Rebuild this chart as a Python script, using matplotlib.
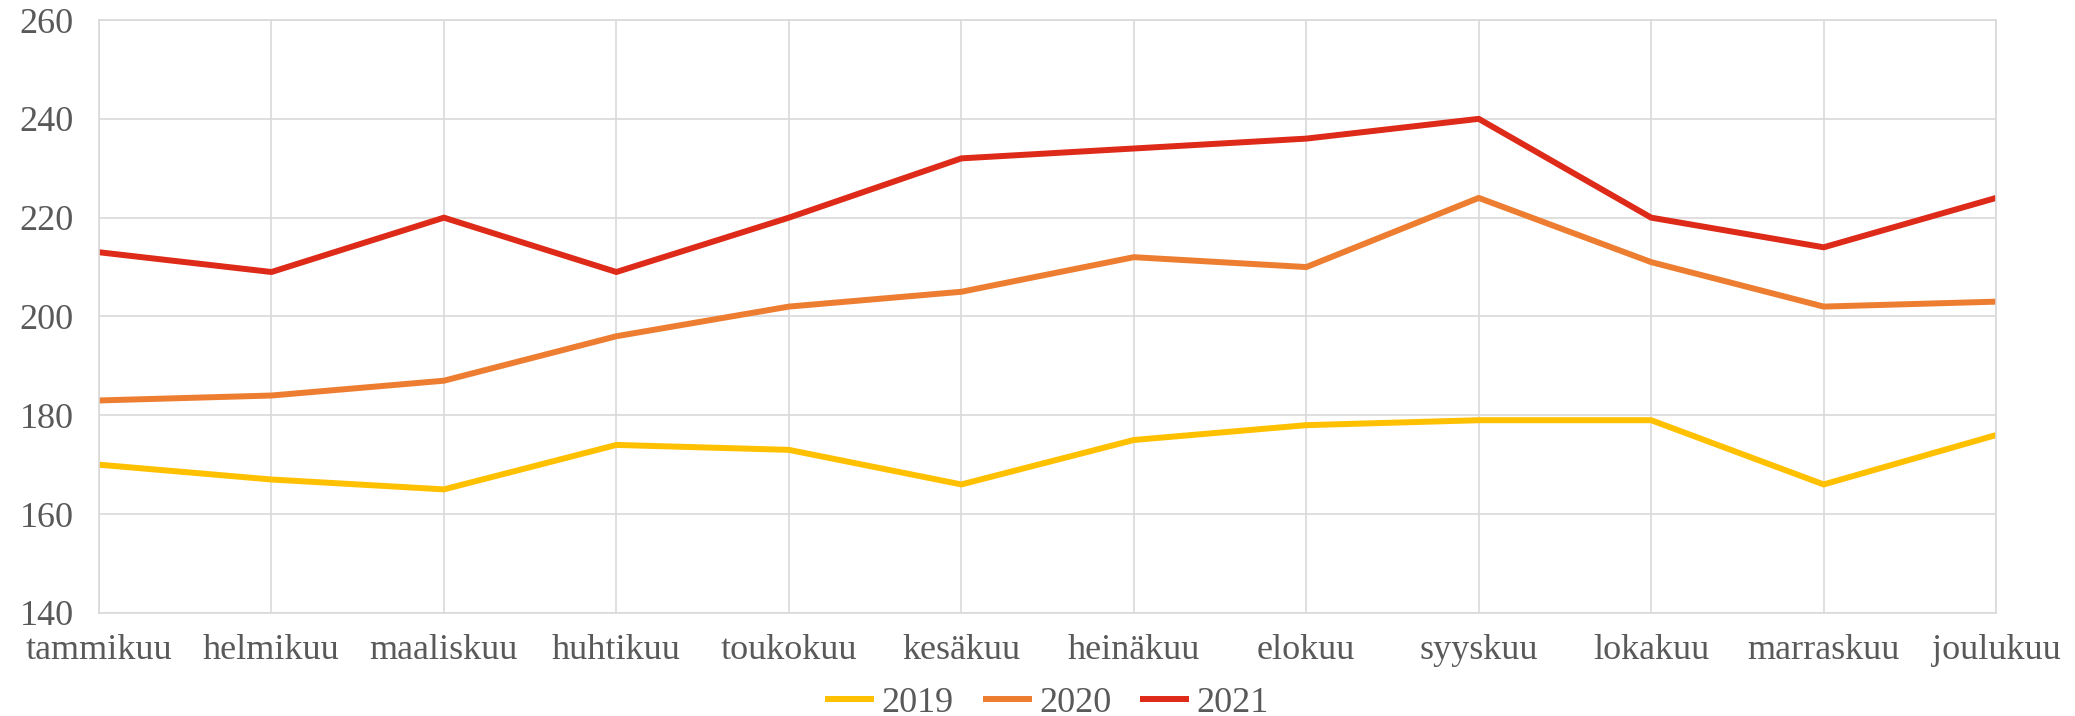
import matplotlib.pyplot as plt

# kuukaudet ja vuosien arvot
months = ['tammikuu', 'helmikuu', 'maaliskuu', 'huhtikuu', 'toukokuu', 'kesäkuu',
          'heinäkuu', 'elokuu', 'syyskuu', 'lokakuu', 'marraskuu', 'joulukuu']
v2019 = [170, 167, 165, 174, 173, 166, 175, 178, 179, 179, 166, 176]
v2020 = [183, 184, 187, 196, 202, 205, 212, 210, 224, 211, 202, 203]
v2021 = [213, 209, 220, 209, 220, 232, 234, 236, 240, 220, 214, 224]
yticks = [140, 160, 180, 200, 220, 240, 260]

plt.rcParams['font.family'] = ['Liberation Serif', 'DejaVu Serif']
txt = '#595959'
grid = '#d9d9d9'

fig, ax = plt.subplots(figsize=(20.75, 7.16), dpi=100)
fig.subplots_adjust(left=0.0477, right=0.962, top=0.972, bottom=0.144)

x = list(range(len(months)))
ax.plot(x, v2019, color='#FFC000', lw=4.3, label='2019', solid_capstyle='butt')
ax.plot(x, v2020, color='#ED7D31', lw=4.3, label='2020', solid_capstyle='butt')
ax.plot(x, v2021, color='#DE2A18', lw=4.3, label='2021', solid_capstyle='butt')

ax.set_xlim(0, len(months) - 1)
ax.set_ylim(140, 260)
ax.set_xticks(x)
ax.set_xticklabels(months)
ax.set_yticks(yticks)
ax.grid(True, color=grid, lw=1.2)
ax.set_axisbelow(True)
for s in ax.spines.values():
    s.set_color(grid)
    s.set_linewidth(1.2)
ax.tick_params(length=0, labelsize=26, colors=txt)
ax.tick_params(axis='y', pad=18)
ax.tick_params(axis='x', pad=15)

fig.legend(loc='center', bbox_to_anchor=(0.5046, 0.018), ncol=3, frameon=False,
           fontsize=26, labelcolor=txt, handlelength=1.36, handletextpad=0.2,
           columnspacing=0.8, borderpad=0)

plt.savefig('out.png')
